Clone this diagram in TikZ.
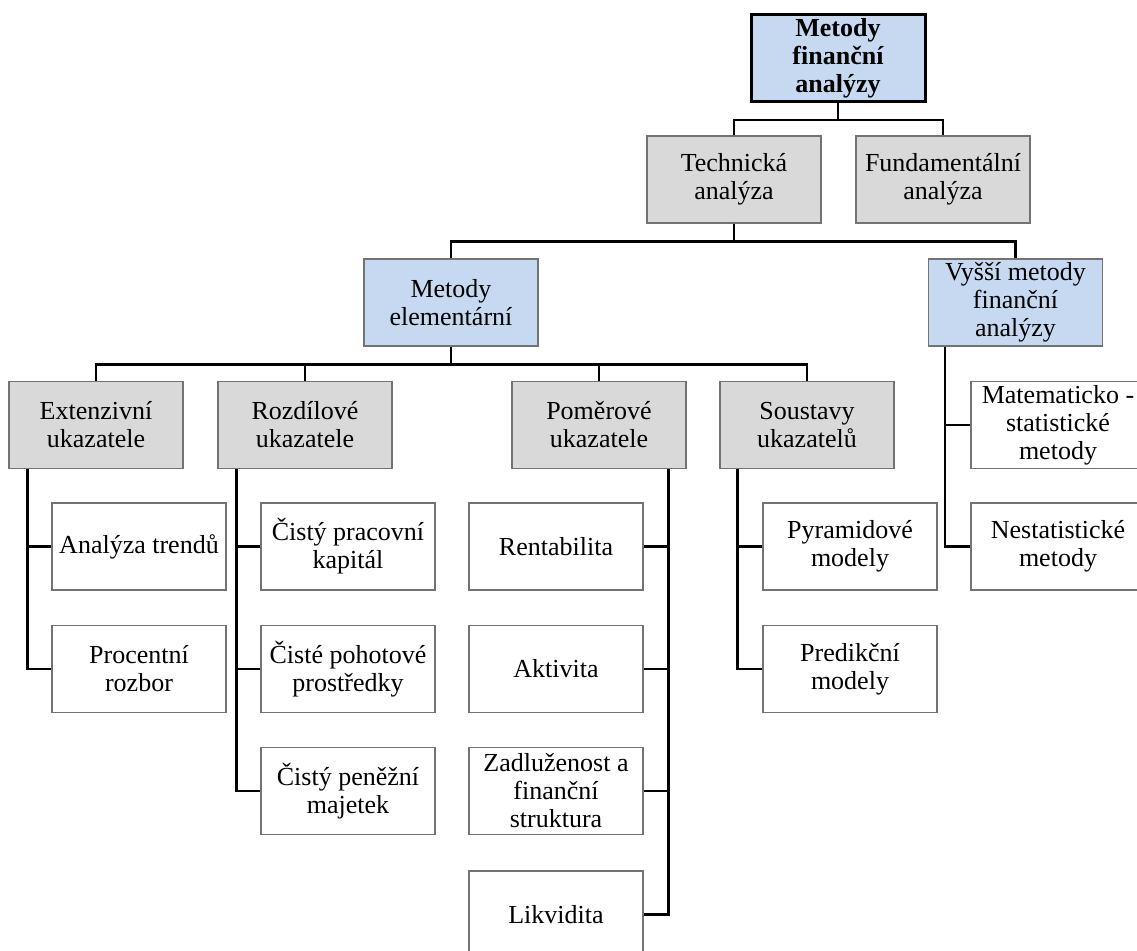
\documentclass[tikz,border=0pt]{standalone}
\usepackage{fontspec}
\setmainfont{Liberation Serif}
\usetikzlibrary{calc}
\definecolor{boxblue}{HTML}{C6D9F1}
\definecolor{boxgrey}{HTML}{D9D9D9}
\tikzset{
  blk/.style={draw=black!55,line width=0.6pt,align=center,minimum width=87pt,
              minimum height=43.5pt,inner sep=1pt,font=\fontsize{13}{14}\selectfont},
  bluebox/.style={blk,fill=boxblue},
  greybox/.style={blk,fill=boxgrey},
  leaf/.style ={blk,fill=white},
  rootbox/.style={bluebox,draw=black,line width=1.5pt,
                  font=\fontsize{13}{14}\selectfont\bfseries},
  link/.style={draw=black,line width=1.4pt},
}

\begin{document}
\begin{tikzpicture}[x=0.5pt,y=-0.5pt]
  \useasboundingbox (0,0) rectangle (1137,950);
  % --- root ---
  \node[rootbox] (root) at (838,58) {Metody\\finanční\\analýzy};
  % --- analysis kinds ---
  \node[greybox] (tech) at (734,179.5) {Technická\\analýza};
  \node[greybox] (fund) at (943,179.5) {Fundamentální\\analýza};
  % --- method groups ---
  \node[bluebox] (elem)  at (451,302.5)  {Metody\\elementární};
  \node[bluebox] (vyssi) at (1015.5,302.5) {Vyšší metody\\finanční\\analýzy};
  % --- indicator groups ---
  \node[greybox] (ext)   at (96,425)  {Extenzivní\\ukazatele};
  \node[greybox] (rozd)  at (305,425) {Rozdílové\\ukazatele};
  \node[greybox] (pomer) at (599,425) {Poměrové\\ukazatele};
  \node[greybox] (soust) at (807,425) {Soustavy\\ukazatelů};
  % --- leaves ---
  \node[leaf] (ana)  at (139,546.5) {Analýza trendů};
  \node[leaf] (proc) at (139,669)   {Procentní\\rozbor};
  \node[leaf] (cpk)  at (348,546.5) {Čistý pracovní\\kapitál};
  \node[leaf] (cpp)  at (348,669)   {Čisté pohotové\\prostředky};
  \node[leaf] (cpm)  at (348,791)   {Čistý peněžní\\majetek};
  \node[leaf] (rent) at (556,546.5) {Rentabilita};
  \node[leaf] (akt)  at (556,669)   {Aktivita};
  \node[leaf] (zad)  at (556,791)   {Zadluženost a\\finanční\\struktura};
  \node[leaf] (likv) at (556,914.5) {Likvidita};
  \node[leaf] (pyr)  at (850,546.5) {Pyramidové\\modely};
  \node[leaf] (pred) at (850,669)   {Predikční\\modely};
  \node[leaf] (mat)  at (1058,425)  {Matematicko -\\statistické\\metody};
  \node[leaf] (nest) at (1058,546.5) {Nestatistické\\metody};

  % tree links
  \draw[link] (root.south) -- ++(0,17) coordinate (r1) -| (tech.north) (r1) -| (fund.north);
  \draw[link] (tech.south) -- ++(0,18) coordinate (t1) -| (elem.north) (t1) -| (vyssi.north);
  \draw[link] (elem.south) -- ++(0,18) coordinate (e1) -| (ext.north)
              (e1) -| (rozd.north) (e1) -| (pomer.north) (e1) -| (soust.north);

  % side trunks
  \coordinate (xt) at ($(ext.south west)+(19,0)$);
  \draw[link] (xt) |- (proc.west) (xt |- ana.west) -- (ana.west);
  \coordinate (rt) at ($(rozd.south west)+(19,0)$);
  \draw[link] (rt) |- (cpm.west) (rt |- cpk.west) -- (cpk.west) (rt |- cpp.west) -- (cpp.west);
  \coordinate (pt) at ($(pomer.south east)+(-18,0)$);
  \draw[link] (pt) |- (likv.east) (pt |- rent.east) -- (rent.east)
              (pt |- akt.east) -- (akt.east) (pt |- zad.east) -- (zad.east);
  \coordinate (st) at ($(soust.south west)+(18,0)$);
  \draw[link] (st) |- (pred.west) (st |- pyr.west) -- (pyr.west);
  \coordinate (vt) at ($(vyssi.south west)+(17,0)$);
  \draw[link] (vt) |- (nest.west) (vt |- mat.west) -- (mat.west);
\end{tikzpicture}
\end{document}
